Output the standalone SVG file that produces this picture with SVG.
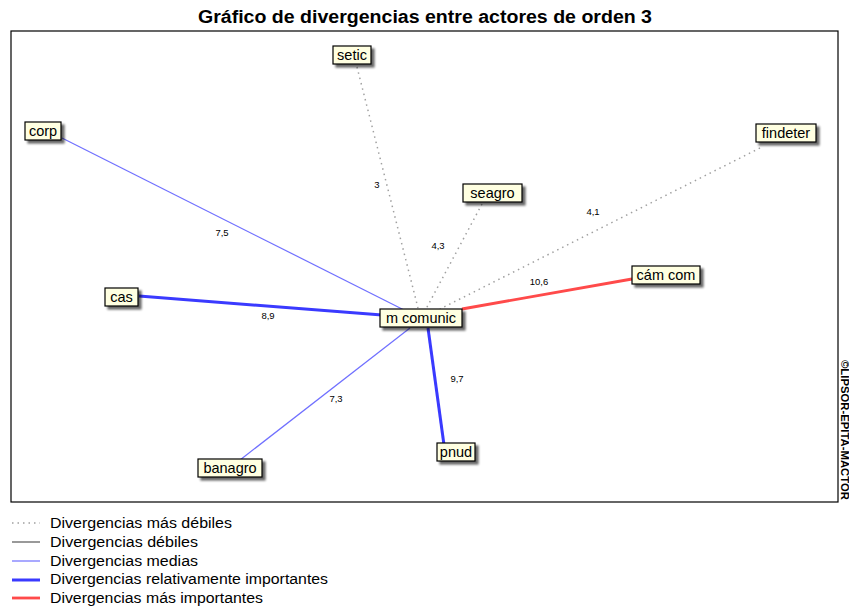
<svg xmlns="http://www.w3.org/2000/svg" width="849" height="608" viewBox="0 0 849 608">
<defs>
<filter id="sh" x="-20%" y="-20%" width="150%" height="180%">
<feOffset dx="3" dy="3" in="SourceAlpha" result="o"/>
<feGaussianBlur in="o" stdDeviation="1.2" result="b"/>
<feComponentTransfer in="b" result="c"><feFuncA type="linear" slope="0.6"/></feComponentTransfer>
<feMerge><feMergeNode in="c"/><feMergeNode in="SourceGraphic"/></feMerge>
</filter>
</defs>
<style>
.t{font-family:"Liberation Sans",Arial,sans-serif;}
.box{fill:#ffffe1;stroke:#000;stroke-width:1.2;filter:url(#sh);}
.lbl{font-family:"Liberation Sans",Arial,sans-serif;font-size:14.5px;fill:#000;text-anchor:middle;}
.num{font-family:"Liberation Sans",Arial,sans-serif;font-size:9.5px;fill:#000;text-anchor:middle;}
.dot{stroke:#a0a0a0;stroke-width:1.5;stroke-dasharray:1.5 4;fill:none;}
.med{stroke:#7070ff;stroke-width:1.2;fill:none;}
.rel{stroke:#3a3aff;stroke-width:3;fill:none;}
.imp{stroke:#ff4a4a;stroke-width:2.8;fill:none;}
.weak{stroke:#555;stroke-width:1.2;fill:none;}
.leg{font-family:"Liberation Sans",Arial,sans-serif;font-size:14px;fill:#000;}
</style>
<rect width="849" height="608" fill="#fff"/>
<text class="t" x="425" y="23" font-size="18" font-weight="bold" text-anchor="middle" textLength="454" lengthAdjust="spacingAndGlyphs">Gráfico de divergencias entre actores de orden 3</text>
<rect x="11" y="31" width="827" height="471" fill="none" stroke="#000" stroke-width="1.2"/>
<text class="t" font-size="10" font-weight="bold" transform="translate(841,360) rotate(90)" fill="#000" textLength="140" lengthAdjust="spacingAndGlyphs">©LIPSOR-EPITA-MACTOR</text>
<g id="connectors">
<line class="dot" x1="357" y1="67" x2="418" y2="308"/>
<line class="med" x1="62" y1="138" x2="408" y2="312"/>
<line class="dot" x1="760" y1="148" x2="440" y2="309"/>
<line class="dot" x1="482" y1="204" x2="426" y2="309"/>
<line class="imp" x1="632" y1="279" x2="462" y2="309"/>
<line class="rel" x1="139" y1="296" x2="382" y2="315"/>
<line class="med" x1="240" y1="460" x2="410" y2="328"/>
<line class="rel" x1="428" y1="328" x2="444" y2="445"/>
<text class="num" x="377" y="188">3</text>
<text class="num" x="222" y="236">7,5</text>
<text class="num" x="593" y="215">4,1</text>
<text class="num" x="438" y="249">4,3</text>
<text class="num" x="539" y="285">10,6</text>
<text class="num" x="268" y="319">8,9</text>
<text class="num" x="336" y="402">7,3</text>
<text class="num" x="457" y="382">9,7</text>
</g>
<g id="n-setic"><rect class="box" x="333" y="46" width="38" height="18"/><text class="lbl" x="352" y="60">setic</text></g>
<g id="n-corp"><rect class="box" x="25" y="122" width="36" height="18"/><text class="lbl" x="43" y="136">corp</text></g>
<g id="n-findeter"><rect class="box" x="756" y="124" width="60" height="18"/><text class="lbl" x="786" y="138">findeter</text></g>
<g id="n-seagro"><rect class="box" x="463" y="184" width="59" height="18"/><text class="lbl" x="492.5" y="198">seagro</text></g>
<g id="n-camcom"><rect class="box" x="632" y="266" width="68" height="18"/><text class="lbl" x="666" y="280">cám com</text></g>
<g id="n-cas"><rect class="box" x="105" y="288" width="33" height="18"/><text class="lbl" x="121.5" y="302">cas</text></g>
<g id="n-mcomunic"><rect class="box" x="380" y="309" width="82" height="18"/><text class="lbl" x="421" y="323">m comunic</text></g>
<g id="n-banagro"><rect class="box" x="198" y="459" width="64" height="18"/><text class="lbl" x="230" y="473">banagro</text></g>
<g id="n-pnud"><rect class="box" x="437" y="443" width="38" height="18"/><text class="lbl" x="456" y="457">pnud</text></g>
<g id="legend">
<line class="dot" x1="12" y1="523" x2="40" y2="523"/>
<line class="weak" x1="12" y1="542" x2="40" y2="542"/>
<line class="med" x1="12" y1="561" x2="40" y2="561"/>
<line class="rel" x1="12" y1="580" x2="40" y2="580" stroke-width="2.5"/>
<line class="imp" x1="12" y1="598" x2="40" y2="598" stroke-width="2.5"/>
<text class="leg" x="50" y="528" textLength="182" lengthAdjust="spacingAndGlyphs">Divergencias más débiles</text>
<text class="leg" x="50" y="547" textLength="148" lengthAdjust="spacingAndGlyphs">Divergencias débiles</text>
<text class="leg" x="50" y="566" textLength="148" lengthAdjust="spacingAndGlyphs">Divergencias medias</text>
<text class="leg" x="50" y="584" textLength="278" lengthAdjust="spacingAndGlyphs">Divergencias relativamente importantes</text>
<text class="leg" x="50" y="603" textLength="213" lengthAdjust="spacingAndGlyphs">Divergencias más importantes</text>
</g>
</svg>
